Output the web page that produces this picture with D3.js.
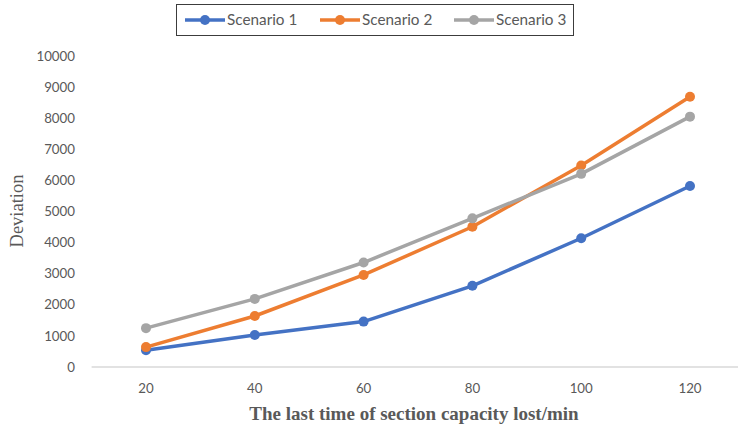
<!DOCTYPE html>
<html>
<head>
<meta charset="utf-8">
<script src="https://cdn.jsdelivr.net/npm/d3@7"></script>
<style>
  html, body { margin: 0; padding: 0; background: #fff; }
  svg { display: block; }
</style>
</head>
<body>
<svg id="chart" width="738" height="428"></svg>
<script>
const categories = [20, 40, 60, 80, 100, 120];
const seriesNames = ["Scenario 1", "Scenario 2", "Scenario 3"];
const scenario1 = [540, 1030, 1460, 2610, 4140, 5820];
const scenario2 = [640, 1640, 2960, 4510, 6480, 8690];
const scenario3 = [1250, 2190, 3360, 4780, 6210, 8050];
const yTicks = [0, 1000, 2000, 3000, 4000, 5000, 6000, 7000, 8000, 9000, 10000];
const colors = ["#4472C4", "#ED7D31", "#A5A5A5"];

const series = [scenario1, scenario2, scenario3].map((v, i) => ({ name: seriesNames[i], values: v, color: colors[i] }));

const svg = d3.select("#chart");
const W = 738, H = 428;
const plotLeft = 91.6, plotRight = 744.4, plotTop = 56, plotBottom = 367;

const x = d3.scalePoint().domain(categories).range([plotLeft, plotRight]).padding(0.5);
const y = d3.scaleLinear().domain([0, 10000]).range([plotBottom, plotTop]);

// baseline
svg.append("line").attr("x1", plotLeft).attr("x2", W).attr("y1", y(0)).attr("y2", y(0))
  .attr("stroke", "#d9d9d9").attr("stroke-width", 1.3);

// y tick labels
svg.append("g").selectAll("text").data(yTicks).join("text")
  .attr("x", 75).attr("y", d => y(d)).attr("dy", "0.35em")
  .attr("text-anchor", "end")
  .attr("font-family", "Lato, sans-serif").attr("font-size", 13.3).attr("fill", "#595959")
  .text(d => d);

// x tick labels
svg.append("g").selectAll("text").data(categories).join("text")
  .attr("x", d => x(d)).attr("y", 388).attr("dy", "0.35em")
  .attr("text-anchor", "middle")
  .attr("font-family", "Lato, sans-serif").attr("font-size", 13.3).attr("fill", "#595959")
  .text(d => d);

// axis titles
svg.append("text").attr("transform", "translate(23,211) rotate(-90)")
  .attr("text-anchor", "middle")
  .attr("font-family", "'Liberation Serif', 'Times New Roman', serif").attr("font-size", 18.5).attr("fill", "#595959")
  .text("Deviation");
svg.append("text").attr("x", 414).attr("y", 413).attr("dy", "0.35em")
  .attr("text-anchor", "middle")
  .attr("font-family", "'Liberation Serif', 'Times New Roman', serif").attr("font-weight", "bold")
  .attr("font-size", 19).attr("fill", "#595959")
  .text("The last time of section capacity lost/min");

// lines
const line = d3.line().x((d, i) => x(categories[i])).y(d => y(d));
const g = svg.append("g");
series.forEach(s => {
  g.append("path").datum(s.values).attr("d", line)
    .attr("fill", "none").attr("stroke", s.color).attr("stroke-width", 3.5)
    .attr("stroke-linejoin", "round").attr("stroke-linecap", "round");
  g.selectAll(null).data(s.values).join("circle")
    .attr("cx", (d, i) => x(categories[i])).attr("cy", d => y(d)).attr("r", 5)
    .attr("fill", s.color);
});

// legend
const lg = svg.append("g");
lg.append("rect").attr("x", 176.5).attr("y", 4.5).attr("width", 397).attr("height", 31)
  .attr("fill", "#fff").attr("stroke", "#3c3c3c").attr("stroke-width", 1);
const legendX = [185, 320, 454];
series.forEach((s, i) => {
  const lx = legendX[i];
  lg.append("line").attr("x1", lx).attr("x2", lx + 40).attr("y1", 20).attr("y2", 20)
    .attr("stroke", s.color).attr("stroke-width", 3.5);
  lg.append("circle").attr("cx", lx + 20).attr("cy", 20).attr("r", 5).attr("fill", s.color);
  lg.append("text").attr("x", lx + 42).attr("y", 20).attr("dy", "0.35em")
    .attr("font-family", "Lato, sans-serif").attr("font-size", 15.3).attr("fill", "#595959")
    .text(s.name);
});
</script>
</body>
</html>
